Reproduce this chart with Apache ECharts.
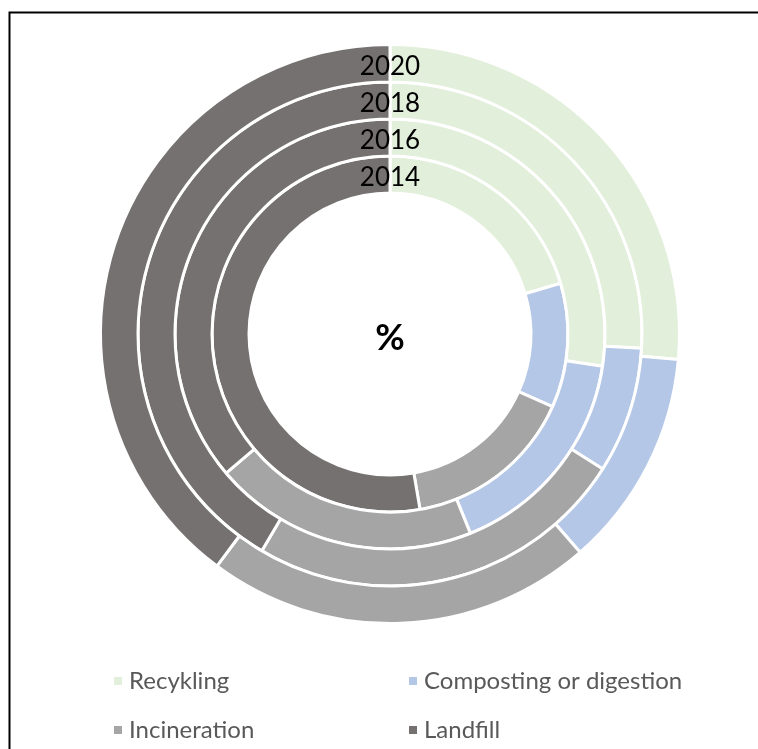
<!DOCTYPE html>
<html>
<head>
<meta charset="utf-8">
<style>
  html, body { margin: 0; padding: 0; background: #fff; }
  #chart { width: 758px; height: 749px; }
</style>
<script src="https://cdn.jsdelivr.net/npm/echarts@6/dist/echarts.min.js"></script>
</head>
<body>
<div id="chart"></div>
<script>
// Waste treatment shares (%) by year, innermost ring first
const years = ['2014', '2016', '2018', '2020'];
const categories = ['Recykling', 'Composting or digestion', 'Incineration', 'Landfill'];
const recycling    = [20.4, 27.4, 25.9, 26.4];
const composting   = [11.3, 16.5, 8.1, 12.2];
const incineration = [15.6, 19.9, 24.5, 21.6];
const landfill     = [52.7, 36.2, 41.5, 39.8];

const colors = ['#E2EFDA', '#B4C7E7', '#A5A5A5', '#767171'];
const FONT = 'Lato, "Open Sans", sans-serif';

// ring geometry
const cx = 390, cy = 334;
const ringEdges = [141, 178, 215, 252, 289.5];

const seriesValues = [recycling, composting, incineration, landfill];

const series = years.map((yr, i) => ({
  type: 'pie',
  name: yr,
  center: [cx, cy],
  radius: [ringEdges[i], ringEdges[i + 1]],
  startAngle: 90,
  clockwise: true,
  label: { show: false },
  labelLine: { show: false },
  emphasis: { disabled: true },
  itemStyle: { borderColor: '#fff', borderWidth: 3 },
  data: categories.map((c, k) => ({ name: c, value: seriesValues[k][i] }))
}));

// year captions at the top of each ring
const yearLabels = years.map((yr, i) => ({
  type: 'text',
  x: cx,
  y: cy - (ringEdges[i] + ringEdges[i + 1]) / 2 + 3,
  style: {
    text: yr,
    fill: '#000',
    font: '26px ' + FONT,
    textAlign: 'center',
    textVerticalAlign: 'middle'
  },
  z: 100
}));

// legend laid out as a 2 x 2 grid, one legend component per cell
const legendCols = [107, 402];
const legendRows = [661, 710];
const legends = categories.map((c, k) => ({
  data: [c],
  left: legendCols[k % 2],
  top: legendRows[Math.floor(k / 2)],
  icon: 'rect',
  itemWidth: 10,
  itemHeight: 10,
  selectedMode: false,
  textStyle: {
    color: '#595959',
    fontSize: 24,
    fontFamily: FONT,
    lineHeight: 30,
    padding: [0, 0, 0, 1]
  }
}));

const chart = echarts.init(document.getElementById('chart'), null, { renderer: 'canvas' });
chart.setOption({
  animation: false,
  color: colors,
  legend: legends,
  graphic: [
    {
      type: 'rect',
      shape: { x: 9.5, y: 12.5, width: 800, height: 800 },
      style: { fill: 'none', stroke: '#000', lineWidth: 2 },
      silent: true
    },
    {
      type: 'text',
      x: cx,
      y: cy + 4,
      style: {
        text: '%',
        fill: '#000',
        font: 'bold 36px ' + FONT,
        textAlign: 'center',
        textVerticalAlign: 'middle'
      }
    }
  ].concat(yearLabels),
  series: series
});
</script>
</body>
</html>
